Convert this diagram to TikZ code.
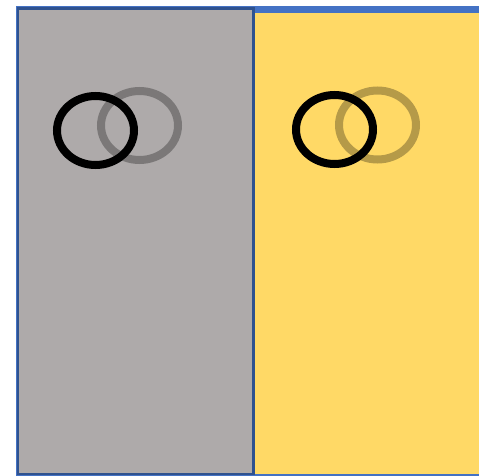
\documentclass[tikz,border=0pt]{standalone}
\definecolor{frameblue}{HTML}{4472C4}
\definecolor{darkblue}{HTML}{2F528F}
\definecolor{panelgray}{HTML}{AEAAAA}
\definecolor{panelyellow}{HTML}{FFD966}
\tikzset{
  ring/.style={draw=black, line width=8pt},
  ghostring/.style={draw=black, draw opacity=0.29, line width=8pt}
}
\begin{document}
\begin{tikzpicture}[x=1pt,y=-1pt]
\useasboundingbox (0,0) rectangle (479,476);
% outer blue frame and yellow panel
\fill[frameblue] (16,6) rectangle (479,476);
\fill[panelyellow] (255,13) rectangle (479,473.5);
% gray panel
\draw[fill=panelgray, draw=darkblue, line width=2.5pt] (18,8.5) rectangle (253.5,474);
% left pair of rings
\draw[ghostring] (139.5,125.5) ellipse [x radius=38.5, y radius=34.5];
\draw[ring] (95.5,130.5) ellipse [x radius=38.5, y radius=34.5];
% right pair of rings
\draw[ghostring] (377.5,125) ellipse [x radius=38.5, y radius=34.5];
\draw[ring] (334.5,129.5) ellipse [x radius=38.5, y radius=34.5];
\end{tikzpicture}
\end{document}
